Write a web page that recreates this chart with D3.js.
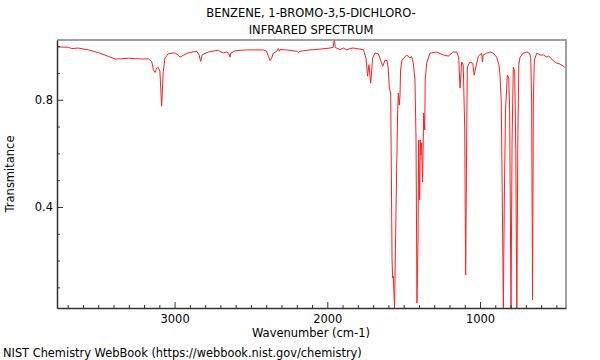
<!DOCTYPE html>
<html>
<head>
<meta charset="utf-8">
<script src="https://cdn.jsdelivr.net/npm/d3@7"></script>
<style>
  body { margin: 0; background: #fff; }
  svg { font-family: "DejaVu Sans", sans-serif; }
</style>
</head>
<body>
<svg id="chart" width="600" height="360"></svg>
<script>
// spectrum: wavenumber (cm-1) and transmittance
const wavenumber = [
  3765, 3696, 3674, 3631, 3565, 3500, 3434, 3390, 3346, 3303, 3215, 3172, 3150, 3139, 3128,
  3117, 3107, 3096, 3085, 3074, 3063, 3041, 2997, 2976, 2965, 2943, 2910, 2855, 2840, 2829,
  2819, 2779, 2714, 2696, 2681, 2659, 2646, 2637, 2631, 2604, 2528, 2419, 2397, 2386, 2375,
  2364, 2354, 2331, 2321, 2314, 2310, 2266, 2200, 2190, 2179, 2113, 2048, 1982, 1961, 1954,
  1948, 1939, 1917, 1895, 1873, 1851, 1830, 1764, 1747, 1736, 1727, 1716, 1703, 1688, 1666,
  1637, 1622, 1609, 1601, 1594, 1585, 1576, 1572, 1568, 1560, 1552, 1546, 1539, 1535, 1529,
  1524, 1520, 1511, 1480, 1459, 1448, 1437, 1426, 1419, 1413, 1406, 1402, 1395, 1391, 1387,
  1382, 1376, 1369, 1362, 1359, 1349, 1328, 1284, 1240, 1208, 1175, 1153, 1140, 1131, 1120,
  1110, 1100, 1094, 1087, 1083, 1066, 1048, 1038, 1029, 1011, 989, 984, 979, 957, 935,
  913, 891, 876, 869, 861, 854, 847, 841, 833, 821, 812, 806, 797, 790, 782,
  773, 766, 759, 753, 746, 738, 717, 692, 677, 668, 662, 656, 651, 644, 629,
  607, 585, 563, 553, 542, 520, 498, 476, 456, 437
];
const transmittance = [
  0.997, 0.996, 0.991, 0.993, 0.986, 0.976, 0.962, 0.952, 0.953, 0.955, 0.952, 0.953, 0.943, 0.912, 0.902,
  0.918, 0.921, 0.906, 0.776, 0.906, 0.956, 0.972, 0.975, 0.966, 0.959, 0.966, 0.975, 0.981, 0.968, 0.943,
  0.968, 0.978, 0.985, 0.978, 0.975, 0.978, 0.974, 0.959, 0.974, 0.983, 0.986, 0.986, 0.981, 0.962, 0.946,
  0.956, 0.974, 0.981, 0.991, 0.981, 0.987, 0.986, 0.981, 0.976, 0.981, 0.986, 0.989, 0.993, 0.996, 1.030,
  0.996, 0.993, 0.987, 0.993, 0.986, 0.991, 0.993, 0.987, 0.956, 0.888, 0.931, 0.862, 0.956, 0.974, 0.972,
  0.925, 0.948, 0.946, 0.918, 0.844, 0.825, 0.202, 0.135, 0.142, 0.023, 0.314, 0.538, 0.762, 0.825, 0.780,
  0.814, 0.911, 0.948, 0.967, 0.956, 0.961, 0.937, 0.874, 0.650, 0.042, 0.277, 0.650, 0.426, 0.650, 0.594,
  0.639, 0.493, 0.751, 0.687, 0.874, 0.937, 0.974, 0.978, 0.967, 0.963, 0.978, 0.978, 0.959, 0.844, 0.941,
  0.930, 0.687, 0.146, 0.687, 0.922, 0.941, 0.936, 0.892, 0.918, 0.963, 0.974, 0.941, 0.967, 0.974, 0.978,
  0.974, 0.959, 0.930, 0.892, 0.795, 0.426, 0.023, 0.426, 0.762, 0.892, 0.881, 0.762, 0.023, 0.650, 0.922,
  0.904, 0.613, 0.023, 0.613, 0.930, 0.959, 0.974, 0.978, 0.974, 0.959, 0.799, 0.053, 0.799, 0.948, 0.974,
  0.967, 0.967, 0.959, 0.963, 0.959, 0.945, 0.937, 0.933, 0.926, 0.918
];

// axis ticks
const xMajorTicks = [3000, 2000, 1000];
const xTickLabels = ["3000", "2000", "1000"];
const yMajorTicks = [0.4, 0.8];
const yTickLabels = ["0.4", "0.8"];
const xMinorTicks = d3.range(500, 3800, 100).filter(v => v % 1000 !== 0);
const yMinorTicks = [0.1, 0.2, 0.3, 0.5, 0.6, 0.7, 0.9, 1.0];

const titleLines = ["BENZENE, 1-BROMO-3,5-DICHLORO-", "INFRARED SPECTRUM"];

// plot box
const plotLeft = 57, plotRight = 566, plotTop = 40, plotBottom = 308;
const fontSize = 11.5;

const x = d3.scaleLinear().domain([3770, 437]).range([plotLeft, plotRight]);
const y = d3.scaleLinear().domain([0.023, 1.023]).range([plotBottom, plotTop]);

const svg = d3.select("#chart");

svg.append("clipPath").attr("id", "plotclip")
  .append("rect")
    .attr("x", plotLeft).attr("y", plotTop)
    .attr("width", plotRight - plotLeft).attr("height", plotBottom - plotTop);

// spectrum line
const points = wavenumber.map((w, i) => [w, transmittance[i]]);
svg.append("path")
    .datum(points)
    .attr("clip-path", "url(#plotclip)")
    .attr("fill", "none")
    .attr("stroke", "#ff2020")
    .attr("stroke-width", 1)
    .attr("d", d3.line().x(d => x(d[0])).y(d => y(d[1])));

// top and right frame in grey
svg.append("path")
    .attr("d", `M${plotLeft},${plotTop}H${plotRight}V${plotBottom}`)
    .attr("fill", "none")
    .attr("stroke", "#a0a0a0")
    .attr("stroke-width", 2);

// x axis, ticks pointing inward
svg.append("g")
    .attr("transform", `translate(0,${plotBottom})`)
    .call(d3.axisBottom(x).tickValues(xMajorTicks)
      .tickSizeInner(-6).tickSizeOuter(0)
      .tickFormat((d, i) => xTickLabels[i]).tickPadding(7));
svg.append("g")
    .attr("transform", `translate(0,${plotBottom})`)
    .call(d3.axisBottom(x).tickValues(xMinorTicks).tickSizeInner(-3).tickSizeOuter(0).tickFormat(""))
    .select(".domain").remove();

// y axis
svg.append("g")
    .attr("transform", `translate(${plotLeft},0)`)
    .call(d3.axisLeft(y).tickValues(yMajorTicks)
      .tickSizeInner(-6).tickSizeOuter(0)
      .tickFormat((d, i) => yTickLabels[i]).tickPadding(4));
svg.append("g")
    .attr("transform", `translate(${plotLeft},0)`)
    .call(d3.axisLeft(y).tickValues(yMinorTicks).tickSizeInner(-3).tickSizeOuter(0).tickFormat(""))
    .select(".domain").remove();

svg.selectAll(".domain").attr("stroke", "#333").attr("stroke-width", 1.5);
svg.selectAll(".tick line").attr("stroke", "#333");
svg.selectAll(".tick text")
    .attr("font-family", "DejaVu Sans, sans-serif")
    .attr("font-size", fontSize)
    .attr("fill", "#000");

// titles
svg.append("g").selectAll("text")
  .data(titleLines)
  .join("text")
    .attr("x", 311)
    .attr("y", (d, i) => 17 + i * 17)
    .attr("text-anchor", "middle")
    .attr("font-size", fontSize)
    .text(d => d);

svg.append("text")
    .attr("x", 311).attr("y", 337)
    .attr("text-anchor", "middle")
    .attr("font-size", fontSize)
    .text("Wavenumber (cm-1)");

svg.append("text")
    .attr("transform", "translate(14,174) rotate(-90)")
    .attr("text-anchor", "middle")
    .attr("font-size", fontSize)
    .text("Transmitance");

svg.append("text")
    .attr("x", 3).attr("y", 357)
    .attr("font-size", 11.4)
    .text("NIST Chemistry WebBook (https://webbook.nist.gov/chemistry)");
</script>
</body>
</html>
